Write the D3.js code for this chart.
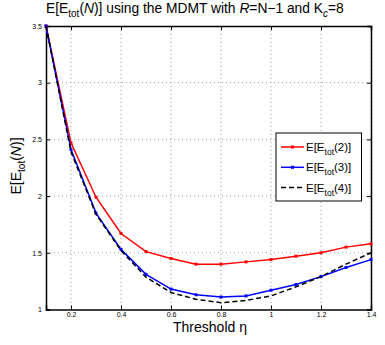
<!DOCTYPE html>
<html><head><meta charset="utf-8">
<script src="https://cdn.jsdelivr.net/npm/d3@7"></script>
<style>body{margin:0;background:#fff}svg{display:block;font-family:"Liberation Sans",Arial,sans-serif}</style>
</head><body><svg id="c" width="385" height="345"></svg>
<script>
const thresholds = [0.1,0.2,0.3,0.4,0.5,0.6,0.7,0.8,0.9,1.0,1.1,1.2,1.3,1.4];
const e2 = [3.5,2.47,1.99,1.67,1.51,1.45,1.40,1.40,1.42,1.44,1.47,1.50,1.55,1.58];
const e3 = [3.5,2.41,1.85,1.53,1.31,1.18,1.13,1.11,1.12,1.17,1.22,1.29,1.37,1.44];
const e4 = [3.5,2.39,1.84,1.52,1.285,1.15,1.09,1.06,1.08,1.12,1.20,1.29,1.40,1.50];
const xTicks = [0.2,0.4,0.6,0.8,1.0,1.2,1.4];
const yTicks = [1,1.5,2,2.5,3,3.5];
const seriesNames = ["2","3","4"];

const svg = d3.select("#c");
const L=46,R=371,T=26,B=309.5;
const x = d3.scaleLinear().domain([0.1,1.4]).range([L,R]);
const y = d3.scaleLinear().domain([1,3.5]).range([B,T]);

// grid
const g = svg.append("g");
g.selectAll(".gx").data(xTicks).enter().append("line")
  .attr("x1",d=>x(d)).attr("x2",d=>x(d)).attr("y1",T).attr("y2",B)
  .attr("stroke","#888").attr("stroke-width",0.8).attr("stroke-dasharray","1,3");
g.selectAll(".gy").data(yTicks.slice(1,-1)).enter().append("line")
  .attr("y1",d=>y(d)).attr("y2",d=>y(d)).attr("x1",L).attr("x2",R)
  .attr("stroke","#888").attr("stroke-width",0.8).attr("stroke-dasharray","1,3");

// axes
const fmt = d=>d3.format("")(d);
const ax = svg.append("g").attr("transform",`translate(0,${B})`)
  .call(d3.axisBottom(x).tickValues(xTicks).tickSize(-4).tickPadding(3).tickFormat(fmt));
const ay = svg.append("g").attr("transform",`translate(${L},0)`)
  .call(d3.axisLeft(y).tickValues(yTicks).tickSize(-4).tickPadding(4).tickFormat(fmt));
const ax2 = svg.append("g").attr("transform",`translate(0,${T})`)
  .call(d3.axisTop(x).tickValues(xTicks).tickSize(-4).tickFormat(""));
const ay2 = svg.append("g").attr("transform",`translate(${R},0)`)
  .call(d3.axisRight(y).tickValues(yTicks).tickSize(-4).tickFormat(""));
[ax,ay,ax2,ay2].forEach(a=>{
  a.select(".domain").attr("stroke","#000").attr("stroke-width",1.5);
  a.selectAll(".tick line").attr("stroke","#000");
  a.selectAll("text").attr("font-size",7).attr("font-family","Liberation Sans, Arial, sans-serif").attr("fill","#000");
});

// lines
const line = d3.line().x((d,i)=>x(thresholds[i])).y(d=>y(d));
const cfg = [
  {data:e2,color:"#ff0000",dash:null,marker:true},
  {data:e3,color:"#0000ff",dash:null,marker:true},
  {data:e4,color:"#000000",dash:"5,3",marker:false}
];
cfg.forEach(c=>{
  svg.append("path").attr("d",line(c.data)).attr("fill","none")
    .attr("stroke",c.color).attr("stroke-width",1.5).attr("stroke-dasharray",c.dash);
  if(c.marker){
    svg.append("g").selectAll("rect").data(c.data).enter().append("rect")
      .attr("x",(d,i)=>x(thresholds[i])-1.5).attr("y",d=>y(d)-1.5)
      .attr("width",3).attr("height",3).attr("fill",c.color);
  }
});

// legend
const lg = svg.append("g");
lg.append("rect").attr("x",276).attr("y",133).attr("width",85.5).attr("height",68)
  .attr("fill","#fff").attr("stroke","#000").attr("stroke-width",1);
cfg.forEach((c,i)=>{
  const yy = 147+i*20.3;
  lg.append("line").attr("x1",281).attr("x2",304).attr("y1",yy).attr("y2",yy)
    .attr("stroke",c.color).attr("stroke-width",1.5).attr("stroke-dasharray",c.dash);
  if(c.marker) lg.append("rect").attr("x",291).attr("y",yy-1.5).attr("width",3).attr("height",3).attr("fill",c.color);
  const t = lg.append("text").attr("x",306).attr("y",yy+4).attr("font-size",11.5);
  t.append("tspan").text("E[E");
  t.append("tspan").attr("font-size",8.5).attr("dy",4).text("tot");
  t.append("tspan").attr("dy",-4).text("("+seriesNames[i]+")]");
});

// title
const tt = svg.append("text").attr("x",46).attr("y",13).attr("text-anchor","start").attr("font-size",13.8);
tt.append("tspan").text("E[E");
tt.append("tspan").attr("font-size",10).attr("dy",4).text("tot");
tt.append("tspan").attr("dy",-4).text("(");
tt.append("tspan").attr("font-style","italic").text("N");
tt.append("tspan").text(")] using the MDMT with ");
tt.append("tspan").attr("font-style","italic").text("R");
tt.append("tspan").text("=N\u22121 and K");
tt.append("tspan").attr("font-size",10).attr("font-style","italic").attr("dy",4).text("c");
tt.append("tspan").attr("dy",-4).text("=8");

// x label
svg.append("text").attr("x",210).attr("y",332).attr("text-anchor","middle").attr("font-size",14).text("Threshold \u03B7");

// y label
const yl = svg.append("text").attr("transform","translate(21,166) rotate(-90)").attr("text-anchor","middle").attr("font-size",14);
yl.append("tspan").text("E[E");
yl.append("tspan").attr("font-size",10).attr("dy",4).text("tot");
yl.append("tspan").attr("dy",-4).text("(");
yl.append("tspan").attr("font-style","italic").text("N");
yl.append("tspan").text(")]");
</script></body></html>
